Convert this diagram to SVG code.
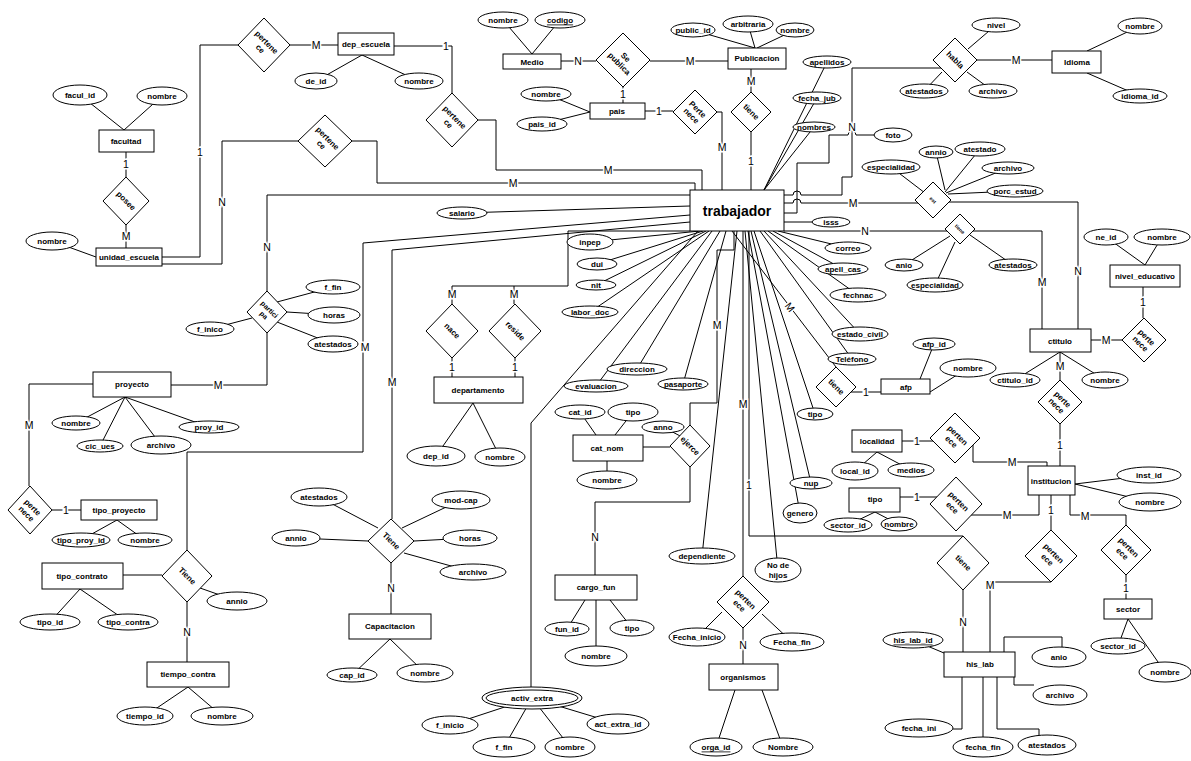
<svg xmlns="http://www.w3.org/2000/svg" width="1191" height="761" viewBox="0 0 1191 761">
<style>
.l{fill:none;stroke:#000;stroke-width:1}
.e{fill:#fff;stroke:#000;stroke-width:1}
.t{font-family:"Liberation Sans",Arial,sans-serif;font-size:8px;font-weight:bold;text-anchor:middle;dominant-baseline:central}
.big{font-size:14px}
.c{font-family:"Liberation Sans",Arial,sans-serif;font-size:10.5px;text-anchor:middle;dominant-baseline:central;paint-order:stroke;stroke:#fff;stroke-width:3px;fill:#000}
.u{text-decoration:underline}
</style>
<rect width="1191" height="761" fill="#fff"/>
<g id="connectors" class="l">
<path d="M80,95 L124,130 M162,96 L124,130"/>
<path d="M126,152 V177 M126,225 V248"/>
<path d="M52,241 L96,257"/>
<path d="M162,257 H200 V45 H238"/>
<path d="M290,45 H338"/>
<path d="M316,81 L362,55 M419,81 L362,55"/>
<path d="M394,46 H452 V93"/>
<path d="M478,120 H496 V170 H702 V190"/>
<path d="M298,141 H222 V264 H162"/>
<path d="M352,141 H377 V183 H695 V190"/>
<path d="M690,195 H267 V291"/>
<path d="M267,333 V385 H171"/>
<path d="M277,302 L333,287 M287,312 L334,315 M277,322 L333,344 M210,329 L252,318"/>
<path d="M125,397 L76,423 M125,397 L100,446 M125,397 L161,445 M125,397 L209,427"/>
<path d="M93,384 H29 V486"/>
<path d="M52,510 H81"/>
<path d="M117,520 L81,540 M117,520 L145,540"/>
<path d="M123,575 H162"/>
<path d="M80,589 L50,622 M80,589 L128,622"/>
<path d="M200,588 L237,601"/>
<path d="M187,602 V662"/>
<path d="M188,687 L145,716 M188,687 L222,716"/>
<path d="M690,215 L363,243 V452 H187 V550"/>
<path d="M690,222 L392,250 V519"/>
<path d="M319,497 L378,528 M461,500 L402,528 M296,538 L368,541 M470,538 L414,541 M473,572 L404,553"/>
<path d="M391,563 V614"/>
<path d="M390,639 L352,675 M390,639 L425,673"/>
<path d="M690,231 H568 V286 H452 V304 M514,286 V304"/>
<path d="M452,358 V377 M515,358 V377"/>
<path d="M473,403 L436,456 M473,403 L500,457"/>
<path d="M462,213 L690,206"/>
<path d="M698,231 L531,423 V687"/>
<path d="M532,698 L450,725 M532,698 L504,747 M532,698 L570,747 M532,698 L618,724"/>
<path d="M580,412 L596,435 M633,412 L615,435 M607,480 V461"/>
<path d="M643,447 H670 M663,427 L684,438"/>
<path d="M690,425 V403 H717 V250 H734 V231"/>
<path d="M690,467 V502 H595 V575"/>
<path d="M585,600 L567,629 M610,600 L632,628 M596,600 V656"/>
<path d="M700,231 L590,242 M703,231 L597,264 M706,231 L596,285 M709,231 L590,312 M712,231 L596,386 M720,231 L637,369 M726,231 L683,384 M737,231 L702,556"/>
<path d="M743,231 V576"/>
<path d="M749,231 V536 H963"/>
<path d="M745,231 L778,570 M748,231 L800,513 M751,231 L811,483 M754,231 L815,414 M732,231 L836,367 M760,231 L852,359 M764,231 L860,334 M768,231 L858,295 M773,231 L843,269 M778,231 L848,248"/>
<path d="M851,392 H881"/>
<path d="M934,344 L920,379 M968,368 L930,392"/>
<path d="M902,441 H933"/>
<path d="M877,452 L855,471 M877,452 L911,470"/>
<path d="M973,445 V462 H1047 V466"/>
<path d="M900,497 H937"/>
<path d="M875,512 L848,525 M875,512 L898,524"/>
<path d="M971,515 H1039 V495"/>
<path d="M784,231 H947"/>
<path d="M973,231 H1042 V329"/>
<path d="M904,265 L950,236 M935,285 L955,242 M1013,265 L970,235"/>
<path d="M784,203 H793 A4,4 0 0 1 801,203 H918"/>
<path d="M949,202 H1078 V329"/>
<path d="M891,167 L925,193 M936,152 L945,190 M980,149 L945,192 M1008,168 L946,193 M1015,191 L948,194"/>
<path d="M784,195 H793 A4,4 0 0 1 801,195 H842 V177 H852 V68 H941"/>
<path d="M784,213 H797 V163 H829 V135 H848 A4,4 0 0 1 856,135 H875"/>
<path d="M996,25 L968,49 M924,91 L942,72 M993,91 L967,72"/>
<path d="M977,60 H1052"/>
<path d="M1140,26 L1087,51 M1140,96 L1087,73"/>
<path d="M827,62 L764,190 M817,98 L764,190 M814,127 L764,190"/>
<path d="M784,222 H812"/>
<path d="M645,111 H673"/>
<path d="M717,112 H722 V190"/>
<path d="M546,94 L590,112 M542,124 L590,112"/>
<path d="M561,61 H596 M650,61 H728 M623,87 V103"/>
<path d="M503,20 L532,54 M560,20 L532,54"/>
<path d="M693,30 L755,48 M748,24 L755,48 M795,30 L757,48"/>
<path d="M751,69 V92 M751,132 V190"/>
<path d="M1091,340 H1122"/>
<path d="M1143,287 V318"/>
<path d="M1106,237 L1145,265 M1162,237 L1145,265"/>
<path d="M1060,352 L1015,380 M1060,352 L1105,380"/>
<path d="M1060,352 V380 M1060,424 V466"/>
<path d="M1075,484 L1149,475 M1075,484 L1150,502"/>
<path d="M1051,495 V530 M1051,582 H990 V652"/>
<path d="M1070,495 V515 H1126 V525 M1126,575 V599"/>
<path d="M1128,619 L1118,646 M1128,619 L1165,672"/>
<path d="M963,590 V652"/>
<path d="M913,640 L944,653"/>
<path d="M1004,652 V637 H1062 V647"/>
<path d="M1014,658 V685 H1034"/>
<path d="M962,677 V729 H953"/>
<path d="M983,677 V737"/>
<path d="M997,677 V729 H1039 V735"/>
<path d="M743,628 V664"/>
<path d="M697,637 L722,612 M792,642 L762,614"/>
<path d="M735,690 L716,747 M762,690 L783,747"/>
</g>
<g id="cardinalities">
<text class="c" x="126" y="164">1</text>
<text class="c" x="126" y="236">M</text>
<text class="c" x="200" y="152">1</text>
<text class="c" x="316" y="45">M</text>
<text class="c" x="446" y="46">1</text>
<text class="c" x="608" y="170">M</text>
<text class="c" x="222" y="202">N</text>
<text class="c" x="513" y="183">M</text>
<text class="c" x="267" y="247">N</text>
<text class="c" x="218" y="385">M</text>
<text class="c" x="29" y="425">M</text>
<text class="c" x="66" y="510">1</text>
<text class="c" x="187" y="632">N</text>
<text class="c" x="365" y="347">M</text>
<text class="c" x="392" y="382">M</text>
<text class="c" x="391" y="588">N</text>
<text class="c" x="452" y="294">M</text>
<text class="c" x="514" y="294">M</text>
<text class="c" x="452" y="367">1</text>
<text class="c" x="515" y="367">1</text>
<text class="c" x="717" y="325">M</text>
<text class="c" x="595" y="537">N</text>
<text class="c" x="743" y="404">M</text>
<text class="c" x="749" y="485">1</text>
<text class="c" x="790" y="307" transform="rotate(52 790 307)">M</text>
<text class="c" x="866" y="392">1</text>
<text class="c" x="917" y="441">1</text>
<text class="c" x="1012" y="462">M</text>
<text class="c" x="917" y="497">1</text>
<text class="c" x="1007" y="515">M</text>
<text class="c" x="865" y="231">N</text>
<text class="c" x="1042" y="282">M</text>
<text class="c" x="853" y="203">M</text>
<text class="c" x="1078" y="271">N</text>
<text class="c" x="852" y="127">N</text>
<text class="c" x="1016" y="60">M</text>
<text class="c" x="659" y="111">1</text>
<text class="c" x="722" y="147">M</text>
<text class="c" x="578" y="61">N</text>
<text class="c" x="690" y="61">M</text>
<text class="c" x="623" y="94">1</text>
<text class="c" x="751" y="81">M</text>
<text class="c" x="751" y="161">1</text>
<text class="c" x="1106" y="340">M</text>
<text class="c" x="1143" y="302">1</text>
<text class="c" x="1060" y="366">M</text>
<text class="c" x="1060" y="445">1</text>
<text class="c" x="1051" y="510">1</text>
<text class="c" x="990" y="585">M</text>
<text class="c" x="1085" y="516">M</text>
<text class="c" x="1126" y="588">1</text>
<text class="c" x="963" y="622">N</text>
<text class="c" x="743" y="645">N</text>
</g>
<g id="trabajador"><rect class="e" x="690" y="190" width="94" height="41"/><text class="t big" x="737" y="211">trabajador</text></g>
<g id="facultad"><rect class="e" x="99" y="130" width="55" height="22"/><text class="t" x="126" y="141">facultad</text></g>
<g id="unidad_escuela"><rect class="e" x="96" y="248" width="66" height="18"/><text class="t" x="129" y="257">unidad_escuela</text></g>
<g id="dep_escuela"><rect class="e" x="338" y="33" width="56" height="22"/><text class="t" x="366" y="44">dep_escuela</text></g>
<g id="Medio"><rect class="e" x="503" y="54" width="58" height="15"/><text class="t" x="532" y="62">Medio</text></g>
<g id="Publicacion"><rect class="e" x="728" y="48" width="58" height="21"/><text class="t" x="757" y="58">Publicacion</text></g>
<g id="pais"><rect class="e" x="590" y="103" width="55" height="16"/><text class="t" x="617" y="111">pais</text></g>
<g id="Idioma"><rect class="e" x="1052" y="51" width="49" height="22"/><text class="t" x="1077" y="62">Idioma</text></g>
<g id="nivel_educativo"><rect class="e" x="1110" y="265" width="70" height="22"/><text class="t" x="1145" y="276">nivel_educativo</text></g>
<g id="ctitulo"><rect class="e" x="1030" y="329" width="61" height="23"/><text class="t" x="1060" y="341">ctitulo</text></g>
<g id="afp"><rect class="e" x="881" y="379" width="49" height="15"/><text class="t" x="906" y="387">afp</text></g>
<g id="proyecto"><rect class="e" x="93" y="372" width="78" height="25"/><text class="t" x="132" y="384">proyecto</text></g>
<g id="tipo_proyecto"><rect class="e" x="81" y="500" width="76" height="20"/><text class="t" x="119" y="510">tipo_proyecto</text></g>
<g id="tipo_contrato"><rect class="e" x="42" y="563" width="81" height="26"/><text class="t" x="82" y="576">tipo_contrato</text></g>
<g id="tiempo_contra"><rect class="e" x="147" y="662" width="82" height="25"/><text class="t" x="188" y="674">tiempo_contra</text></g>
<g id="departamento"><rect class="e" x="434" y="377" width="89" height="26"/><text class="t" x="478" y="390">departamento</text></g>
<g id="cat_nom"><rect class="e" x="573" y="435" width="70" height="26"/><text class="t" x="607" y="448">cat_nom</text></g>
<g id="cargo_fun"><rect class="e" x="555" y="575" width="82" height="25"/><text class="t" x="596" y="587">cargo_fun</text></g>
<g id="Capacitacion"><rect class="e" x="349" y="614" width="82" height="25"/><text class="t" x="390" y="626">Capacitacion</text></g>
<g id="localidad"><rect class="e" x="852" y="430" width="50" height="22"/><text class="t" x="877" y="441">localidad</text></g>
<g id="tipo"><rect class="e" x="849" y="488" width="51" height="24"/><text class="t" x="875" y="499">tipo</text></g>
<g id="institucion"><rect class="e" x="1028" y="466" width="47" height="29"/><text class="t" x="1051" y="481">institucion</text></g>
<g id="organismos"><rect class="e" x="709" y="664" width="69" height="26"/><text class="t" x="743" y="677">organismos</text></g>
<g id="his_lab"><rect class="e" x="944" y="652" width="71" height="25"/><text class="t" x="980" y="664">his_lab</text></g>
<g id="sector"><rect class="e" x="1104" y="599" width="48" height="20"/><text class="t" x="1128" y="609">sector</text></g>
<g id="activ_extra"><ellipse class="e" cx="532" cy="698" rx="50" ry="11"/><ellipse class="e" cx="532" cy="698" rx="46" ry="8"/><text class="t" x="532" y="698">activ_extra</text></g>
<g id="rel_pertenece1"><polygon class="e" points="264,18 290,45 264,72 238,45"/><text class="t" transform="rotate(45 264 45)"><tspan x="264" y="41">pertene</tspan><tspan x="264" y="50">ce</tspan></text></g>
<g id="rel_pertenece2"><polygon class="e" points="325,115 352,141 325,167 298,141"/><text class="t" transform="rotate(45 325 141)"><tspan x="325" y="137">pertene</tspan><tspan x="325" y="146">ce</tspan></text></g>
<g id="rel_pertenece3"><polygon class="e" points="452,93 478,120 452,147 426,120"/><text class="t" transform="rotate(45 452 120)"><tspan x="452" y="116">pertene</tspan><tspan x="452" y="125">ce</tspan></text></g>
<g id="rel_posee"><polygon class="e" points="126,177 149,201 126,225 103,201"/><text class="t" transform="rotate(45 126 201)" x="126" y="201">posee</text></g>
<g id="rel_sepublica"><polygon class="e" points="623,33 650,60 623,87 596,60"/><text class="t" transform="rotate(45 623 60)"><tspan x="623" y="56">Se</tspan><tspan x="623" y="65">publica</tspan></text></g>
<g id="rel_pertenece_pais"><polygon class="e" points="695,90 717,112 695,134 673,112"/><text class="t" transform="rotate(45 695 112)"><tspan x="695" y="108">Perte</tspan><tspan x="695" y="117">nece</tspan></text></g>
<g id="rel_tiene_pub"><polygon class="e" points="751,92 771,112 751,132 731,112"/><text class="t" transform="rotate(45 751 112)" x="751" y="112">tiene</text></g>
<g id="rel_habla"><polygon class="e" points="955,38 977,60 955,82 933,60"/><text class="t" transform="rotate(45 955 60)" x="955" y="60">habla</text></g>
<g id="rel_est"><polygon class="e" points="933,182 951,200 933,218 915,200"/><text class="t" style="font-size:5px" transform="rotate(45 933 200)" x="933" y="200">est</text></g>
<g id="rel_tiene_ct"><polygon class="e" points="960,214 975,229 960,244 945,229"/><text class="t" style="font-size:5px" transform="rotate(45 960 229)" x="960" y="229">tiene</text></g>
<g id="rel_pertenece_nivel"><polygon class="e" points="1144,318 1166,340 1144,362 1122,340"/><text class="t" transform="rotate(45 1144 340)"><tspan x="1144" y="336">perte</tspan><tspan x="1144" y="345">nece</tspan></text></g>
<g id="rel_pertenece_inst"><polygon class="e" points="1060,380 1082,402 1060,424 1038,402"/><text class="t" transform="rotate(45 1060 402)"><tspan x="1060" y="398">perte</tspan><tspan x="1060" y="407">nece</tspan></text></g>
<g id="rel_participa"><polygon class="e" points="267,291 287,312 267,333 247,312"/><text class="t" style="font-size:7px" transform="rotate(45 267 312)"><tspan x="267" y="308">partici</tspan><tspan x="267" y="316">pa</tspan></text></g>
<g id="rel_pertenece_proy"><polygon class="e" points="30,486 52,510 30,534 8,510"/><text class="t" transform="rotate(45 30 510)"><tspan x="30" y="506">perte</tspan><tspan x="30" y="515">nece</tspan></text></g>
<g id="rel_tiene_contrato"><polygon class="e" points="187,550 212,576 187,602 162,576"/><text class="t" transform="rotate(45 187 576)" x="187" y="576">Tiene</text></g>
<g id="rel_nace"><polygon class="e" points="452,304 478,331 452,358 426,331"/><text class="t" transform="rotate(45 452 331)" x="452" y="331">nace</text></g>
<g id="rel_reside"><polygon class="e" points="515,304 541,331 515,358 489,331"/><text class="t" transform="rotate(45 515 331)" x="515" y="331">reside</text></g>
<g id="rel_tiene_cap"><polygon class="e" points="391,519 414,541 391,563 368,541"/><text class="t" transform="rotate(45 391 541)" x="391" y="541">Tiene</text></g>
<g id="rel_ejerce"><polygon class="e" points="690,425 710,446 690,467 670,446"/><text class="t" transform="rotate(45 690 446)" x="690" y="446">ejerce</text></g>
<g id="rel_tiene_afp"><polygon class="e" points="836,367 856,387 836,407 816,387"/><text class="t" transform="rotate(45 836 387)" x="836" y="387">tiene</text></g>
<g id="rel_pertenece_loc"><polygon class="e" points="955,413 980,438 955,463 930,438"/><text class="t" transform="rotate(45 955 438)"><tspan x="955" y="434">perten</tspan><tspan x="955" y="443">ece</tspan></text></g>
<g id="rel_pertenece_tipo"><polygon class="e" points="956,477 982,504 956,531 930,504"/><text class="t" transform="rotate(45 956 504)"><tspan x="956" y="500">perten</tspan><tspan x="956" y="509">ece</tspan></text></g>
<g id="rel_pertenece_org"><polygon class="e" points="743,576 769,602 743,628 717,602"/><text class="t" transform="rotate(45 743 602)"><tspan x="743" y="598">perten</tspan><tspan x="743" y="607">ece</tspan></text></g>
<g id="rel_tiene_his"><polygon class="e" points="963,536 989,563 963,590 937,563"/><text class="t" transform="rotate(45 963 563)" x="963" y="563">tiene</text></g>
<g id="rel_pertenece_his"><polygon class="e" points="1051,530 1077,556 1051,582 1025,556"/><text class="t" transform="rotate(45 1051 556)"><tspan x="1051" y="552">perten</tspan><tspan x="1051" y="561">ece</tspan></text></g>
<g id="rel_pertenece_sector"><polygon class="e" points="1126,525 1151,550 1126,575 1101,550"/><text class="t" transform="rotate(45 1126 550)"><tspan x="1126" y="546">perten</tspan><tspan x="1126" y="555">ece</tspan></text></g>
<g id="attributes">
<g id="a_facul_id"><ellipse class="e" cx="80" cy="95" rx="27" ry="10"/><text class="t" x="80" y="95">facul_id</text></g>
<g id="a_fac_nombre"><ellipse class="e" cx="162" cy="96" rx="25" ry="9"/><text class="t" x="162" y="96">nombre</text></g>
<g id="a_ue_nombre"><ellipse class="e" cx="52" cy="241" rx="26" ry="9"/><text class="t" x="52" y="241">nombre</text></g>
<g id="a_de_id"><ellipse class="e" cx="316" cy="81" rx="21" ry="8"/><text class="t" x="316" y="81">de_id</text></g>
<g id="a_de_nombre"><ellipse class="e" cx="419" cy="81" rx="24" ry="8"/><text class="t" x="419" y="81">nombre</text></g>
<g id="a_medio_nombre"><ellipse class="e" cx="503" cy="20" rx="25" ry="8"/><text class="t" x="503" y="20">nombre</text></g>
<g id="a_codigo"><ellipse class="e" cx="560" cy="20" rx="25" ry="8"/><text class="t u" x="560" y="20">codigo</text></g>
<g id="a_public_id"><ellipse class="e" cx="693" cy="30" rx="22" ry="7"/><text class="t" x="693" y="30">public_id</text></g>
<g id="a_arbitraria"><ellipse class="e" cx="748" cy="24" rx="25" ry="8"/><text class="t" x="748" y="24">arbitraria</text></g>
<g id="a_pub_nombre"><ellipse class="e" cx="795" cy="30" rx="19" ry="7"/><text class="t" x="795" y="30">nombre</text></g>
<g id="a_pais_nombre"><ellipse class="e" cx="546" cy="94" rx="25" ry="7"/><text class="t" x="546" y="94">nombre</text></g>
<g id="a_pais_id"><ellipse class="e" cx="542" cy="124" rx="25" ry="7"/><text class="t" x="542" y="124">pais_id</text></g>
<g id="a_apellidos"><ellipse class="e" cx="827" cy="62" rx="24" ry="6"/><text class="t" x="827" y="62">apellidos</text></g>
<g id="a_fecha_jub"><ellipse class="e" cx="817" cy="98" rx="24" ry="6"/><text class="t" x="817" y="98">fecha_jub</text></g>
<g id="a_nombres"><ellipse class="e" cx="814" cy="127" rx="21" ry="5"/><text class="t" x="814" y="127">nombres</text></g>
<g id="a_foto"><ellipse class="e" cx="893" cy="135" rx="19" ry="7"/><text class="t" x="893" y="135">foto</text></g>
<g id="a_nivel"><ellipse class="e" cx="996" cy="25" rx="24" ry="7"/><text class="t" x="996" y="25">nivel</text></g>
<g id="a_habla_atestados"><ellipse class="e" cx="924" cy="91" rx="24" ry="7"/><text class="t" x="924" y="91">atestados</text></g>
<g id="a_habla_archivo"><ellipse class="e" cx="993" cy="91" rx="24" ry="7"/><text class="t" x="993" y="91">archivo</text></g>
<g id="a_idioma_nombre"><ellipse class="e" cx="1140" cy="26" rx="22" ry="8"/><text class="t" x="1140" y="26">nombre</text></g>
<g id="a_idioma_id"><ellipse class="e" cx="1140" cy="96" rx="27" ry="7"/><text class="t" x="1140" y="96">idioma_id</text></g>
<g id="a_est_especialidad"><ellipse class="e" cx="891" cy="167" rx="29" ry="7"/><text class="t" x="891" y="167">especialidad</text></g>
<g id="a_est_annio"><ellipse class="e" cx="936" cy="152" rx="17" ry="6"/><text class="t" x="936" y="152">annio</text></g>
<g id="a_est_atestado"><ellipse class="e" cx="980" cy="149" rx="25" ry="7"/><text class="t" x="980" y="149">atestado</text></g>
<g id="a_est_archivo"><ellipse class="e" cx="1008" cy="168" rx="26" ry="6"/><text class="t" x="1008" y="168">archivo</text></g>
<g id="a_porc_estud"><ellipse class="e" cx="1015" cy="191" rx="28" ry="6"/><text class="t" x="1015" y="191">porc_estud</text></g>
<g id="a_ct_anio"><ellipse class="e" cx="904" cy="265" rx="19" ry="6"/><text class="t" x="904" y="265">anio</text></g>
<g id="a_ct_especialidad"><ellipse class="e" cx="935" cy="285" rx="28" ry="7"/><text class="t" x="935" y="285">especialidad</text></g>
<g id="a_ct_atestados"><ellipse class="e" cx="1013" cy="265" rx="24" ry="6"/><text class="t" x="1013" y="265">atestados</text></g>
<g id="a_ne_id"><ellipse class="e" cx="1106" cy="237" rx="22" ry="8"/><text class="t" x="1106" y="237">ne_id</text></g>
<g id="a_ne_nombre"><ellipse class="e" cx="1162" cy="237" rx="28" ry="8"/><text class="t" x="1162" y="237">nombre</text></g>
<g id="a_ctitulo_id"><ellipse class="e" cx="1015" cy="380" rx="25" ry="7"/><text class="t" x="1015" y="380">ctitulo_id</text></g>
<g id="a_ctitulo_nombre"><ellipse class="e" cx="1105" cy="380" rx="23" ry="8"/><text class="t" x="1105" y="380">nombre</text></g>
<g id="a_afp_id"><ellipse class="e" cx="934" cy="344" rx="21" ry="6"/><text class="t" x="934" y="344">afp_id</text></g>
<g id="a_afp_nombre"><ellipse class="e" cx="968" cy="368" rx="28" ry="9"/><text class="t" x="968" y="368">nombre</text></g>
<g id="a_inst_id"><ellipse class="e" cx="1149" cy="475" rx="32" ry="8"/><text class="t" x="1149" y="475">inst_id</text></g>
<g id="a_inst_nombre"><ellipse class="e" cx="1150" cy="502" rx="31" ry="9"/><text class="t" x="1150" y="502">nombre</text></g>
<g id="a_local_id"><ellipse class="e" cx="855" cy="471" rx="23" ry="9"/><text class="t" x="855" y="471">local_id</text></g>
<g id="a_medios"><ellipse class="e" cx="911" cy="470" rx="23" ry="7"/><text class="t" x="911" y="470">medios</text></g>
<g id="a_tipo_sector_id"><ellipse class="e" cx="848" cy="525" rx="24" ry="7"/><text class="t" x="848" y="525">sector_id</text></g>
<g id="a_tipo_nombre"><ellipse class="e" cx="899" cy="524" rx="18" ry="7"/><text class="t" x="899" y="524">nombre</text></g>
<g id="a_isss"><ellipse class="e" cx="831" cy="222" rx="19" ry="5"/><text class="t" x="831" y="222">isss</text></g>
<g id="a_correo"><ellipse class="e" cx="848" cy="248" rx="23" ry="6"/><text class="t" x="848" y="248">correo</text></g>
<g id="a_apell_cas"><ellipse class="e" cx="843" cy="269" rx="25" ry="6"/><text class="t" x="843" y="269">apell_cas</text></g>
<g id="a_fechnac"><ellipse class="e" cx="858" cy="295" rx="28" ry="7"/><text class="t" x="858" y="295">fechnac</text></g>
<g id="a_estado_civil"><ellipse class="e" cx="860" cy="334" rx="28" ry="7"/><text class="t" x="860" y="334">estado_civil</text></g>
<g id="a_telefono"><ellipse class="e" cx="852" cy="359" rx="24" ry="6"/><text class="t" x="852" y="359">Teléfono</text></g>
<g id="a_tipo"><ellipse class="e" cx="815" cy="414" rx="18" ry="6"/><text class="t" x="815" y="414">tipo</text></g>
<g id="a_nup"><ellipse class="e" cx="811" cy="483" rx="21" ry="6"/><text class="t" x="811" y="483">nup</text></g>
<g id="a_genero"><ellipse class="e" cx="800" cy="513" rx="17" ry="10"/><text class="t" x="800" y="513">genero</text></g>
<g id="a_hijos"><ellipse class="e" cx="778" cy="570" rx="23" ry="12"/><text class="t"><tspan x="778" y="565">No de</tspan><tspan x="778" y="575">hijos</tspan></text></g>
<g id="a_dependiente"><ellipse class="e" cx="702" cy="556" rx="33" ry="8"/><text class="t" x="702" y="556">dependiente</text></g>
<g id="a_inpep"><ellipse class="e" cx="590" cy="242" rx="23" ry="8"/><text class="t" x="590" y="242">inpep</text></g>
<g id="a_dui"><ellipse class="e" cx="597" cy="264" rx="20" ry="6"/><text class="t" x="597" y="264">dui</text></g>
<g id="a_nit"><ellipse class="e" cx="596" cy="285" rx="20" ry="5"/><text class="t" x="596" y="285">nit</text></g>
<g id="a_labor_doc"><ellipse class="e" cx="590" cy="312" rx="28" ry="6"/><text class="t" x="590" y="312">labor_doc</text></g>
<g id="a_direccion"><ellipse class="e" cx="637" cy="369" rx="30" ry="6"/><text class="t" x="637" y="369">direccion</text></g>
<g id="a_pasaporte"><ellipse class="e" cx="683" cy="384" rx="25" ry="6"/><text class="t" x="683" y="384">pasaporte</text></g>
<g id="a_evaluacion"><ellipse class="e" cx="596" cy="386" rx="32" ry="6"/><text class="t" x="596" y="386">evaluacion</text></g>
<g id="a_salario"><ellipse class="e" cx="462" cy="213" rx="25" ry="6"/><text class="t" x="462" y="213">salario</text></g>
<g id="a_f_fin"><ellipse class="e" cx="333" cy="287" rx="27" ry="7"/><text class="t" x="333" y="287">f_fin</text></g>
<g id="a_horas"><ellipse class="e" cx="334" cy="315" rx="26" ry="8"/><text class="t" x="334" y="315">horas</text></g>
<g id="a_part_atestados"><ellipse class="e" cx="333" cy="344" rx="25" ry="8"/><text class="t" x="333" y="344">atestados</text></g>
<g id="a_f_inico"><ellipse class="e" cx="210" cy="329" rx="24" ry="7"/><text class="t" x="210" y="329">f_inico</text></g>
<g id="a_proy_nombre"><ellipse class="e" cx="76" cy="423" rx="24" ry="7"/><text class="t" x="76" y="423">nombre</text></g>
<g id="a_cic_ues"><ellipse class="e" cx="100" cy="446" rx="23" ry="6"/><text class="t" x="100" y="446">cic_ues</text></g>
<g id="a_proy_archivo"><ellipse class="e" cx="161" cy="445" rx="30" ry="9"/><text class="t" x="161" y="445">archivo</text></g>
<g id="a_proy_id"><ellipse class="e" cx="209" cy="427" rx="30" ry="6"/><text class="t" x="209" y="427">proy_id</text></g>
<g id="a_tipo_proy_id"><ellipse class="e" cx="81" cy="540" rx="29" ry="7"/><text class="t" x="81" y="540">tipo_proy_id</text></g>
<g id="a_tp_nombre"><ellipse class="e" cx="145" cy="540" rx="27" ry="7"/><text class="t" x="145" y="540">nombre</text></g>
<g id="a_tipo_id"><ellipse class="e" cx="50" cy="622" rx="30" ry="8"/><text class="t" x="50" y="622">tipo_id</text></g>
<g id="a_tipo_contra"><ellipse class="e" cx="128" cy="622" rx="30" ry="8"/><text class="t" x="128" y="622">tipo_contra</text></g>
<g id="a_cont_annio"><ellipse class="e" cx="237" cy="601" rx="30" ry="9"/><text class="t" x="237" y="601">annio</text></g>
<g id="a_tiempo_id"><ellipse class="e" cx="145" cy="716" rx="28" ry="9"/><text class="t" x="145" y="716">tiempo_id</text></g>
<g id="a_tc_nombre"><ellipse class="e" cx="222" cy="716" rx="31" ry="9"/><text class="t" x="222" y="716">nombre</text></g>
<g id="a_dep_id"><ellipse class="e" cx="436" cy="456" rx="29" ry="10"/><text class="t" x="436" y="456">dep_id</text></g>
<g id="a_dep_nombre"><ellipse class="e" cx="500" cy="457" rx="25" ry="9"/><text class="t" x="500" y="457">nombre</text></g>
<g id="a_cap_atestados"><ellipse class="e" cx="319" cy="497" rx="28" ry="9"/><text class="t" x="319" y="497">atestados</text></g>
<g id="a_mod_cap"><ellipse class="e" cx="461" cy="500" rx="29" ry="9"/><text class="t" x="461" y="500">mod-cap</text></g>
<g id="a_cap_annio"><ellipse class="e" cx="296" cy="538" rx="24" ry="8"/><text class="t" x="296" y="538">annio</text></g>
<g id="a_cap_horas"><ellipse class="e" cx="470" cy="538" rx="27" ry="8"/><text class="t" x="470" y="538">horas</text></g>
<g id="a_cap_archivo"><ellipse class="e" cx="473" cy="572" rx="33" ry="8"/><text class="t" x="473" y="572">archivo</text></g>
<g id="a_cap_id"><ellipse class="e" cx="352" cy="675" rx="25" ry="7"/><text class="t" x="352" y="675">cap_id</text></g>
<g id="a_cap_nombre"><ellipse class="e" cx="425" cy="673" rx="28" ry="9"/><text class="t" x="425" y="673">nombre</text></g>
<g id="a_cat_id"><ellipse class="e" cx="580" cy="412" rx="25" ry="7"/><text class="t" x="580" y="412">cat_id</text></g>
<g id="a_cat_tipo"><ellipse class="e" cx="633" cy="412" rx="25" ry="9"/><text class="t" x="633" y="412">tipo</text></g>
<g id="a_anno"><ellipse class="e" cx="663" cy="427" rx="21" ry="6"/><text class="t" x="663" y="427">anno</text></g>
<g id="a_cat_nombre"><ellipse class="e" cx="607" cy="480" rx="30" ry="9"/><text class="t" x="607" y="480">nombre</text></g>
<g id="a_fun_id"><ellipse class="e" cx="567" cy="629" rx="22" ry="7"/><text class="t" x="567" y="629">fun_id</text></g>
<g id="a_cargo_tipo"><ellipse class="e" cx="632" cy="628" rx="22" ry="8"/><text class="t" x="632" y="628">tipo</text></g>
<g id="a_cargo_nombre"><ellipse class="e" cx="596" cy="656" rx="31" ry="10"/><text class="t" x="596" y="656">nombre</text></g>
<g id="a_f_inicio"><ellipse class="e" cx="450" cy="725" rx="28" ry="9"/><text class="t" x="450" y="725">f_inicio</text></g>
<g id="a_ae_f_fin"><ellipse class="e" cx="504" cy="747" rx="31" ry="10"/><text class="t" x="504" y="747">f_fin</text></g>
<g id="a_ae_nombre"><ellipse class="e" cx="570" cy="747" rx="25" ry="10"/><text class="t" x="570" y="747">nombre</text></g>
<g id="a_act_extra_id"><ellipse class="e" cx="618" cy="724" rx="31" ry="10"/><text class="t" x="618" y="724">act_extra_id</text></g>
<g id="a_fecha_inicio"><ellipse class="e" cx="697" cy="637" rx="28" ry="9"/><text class="t" x="697" y="637">Fecha_inicio</text></g>
<g id="a_fecha_fin_org"><ellipse class="e" cx="792" cy="642" rx="32" ry="9"/><text class="t" x="792" y="642">Fecha_fin</text></g>
<g id="a_orga_id"><ellipse class="e" cx="716" cy="747" rx="26" ry="9"/><text class="t u" x="716" y="747">orga_id</text></g>
<g id="a_org_nombre"><ellipse class="e" cx="783" cy="747" rx="30" ry="9"/><text class="t" x="783" y="747">Nombre</text></g>
<g id="a_his_lab_id"><ellipse class="e" cx="913" cy="640" rx="30" ry="8"/><text class="t u" x="913" y="640">his_lab_id</text></g>
<g id="a_his_anio"><ellipse class="e" cx="1059" cy="657" rx="27" ry="10"/><text class="t" x="1059" y="657">anio</text></g>
<g id="a_his_archivo"><ellipse class="e" cx="1060" cy="695" rx="27" ry="10"/><text class="t" x="1060" y="695">archivo</text></g>
<g id="a_fecha_ini"><ellipse class="e" cx="919" cy="728" rx="34" ry="9"/><text class="t" x="919" y="728">fecha_ini</text></g>
<g id="a_his_fecha_fin"><ellipse class="e" cx="983" cy="747" rx="30" ry="10"/><text class="t" x="983" y="747">fecha_fin</text></g>
<g id="a_his_atestados"><ellipse class="e" cx="1047" cy="745" rx="29" ry="10"/><text class="t" x="1047" y="745">atestados</text></g>
<g id="a_sector_id"><ellipse class="e" cx="1118" cy="646" rx="27" ry="8"/><text class="t" x="1118" y="646">sector_id</text></g>
<g id="a_sector_nombre"><ellipse class="e" cx="1165" cy="672" rx="26" ry="10"/><text class="t" x="1165" y="672">nombre</text></g>
</g>
</svg>
